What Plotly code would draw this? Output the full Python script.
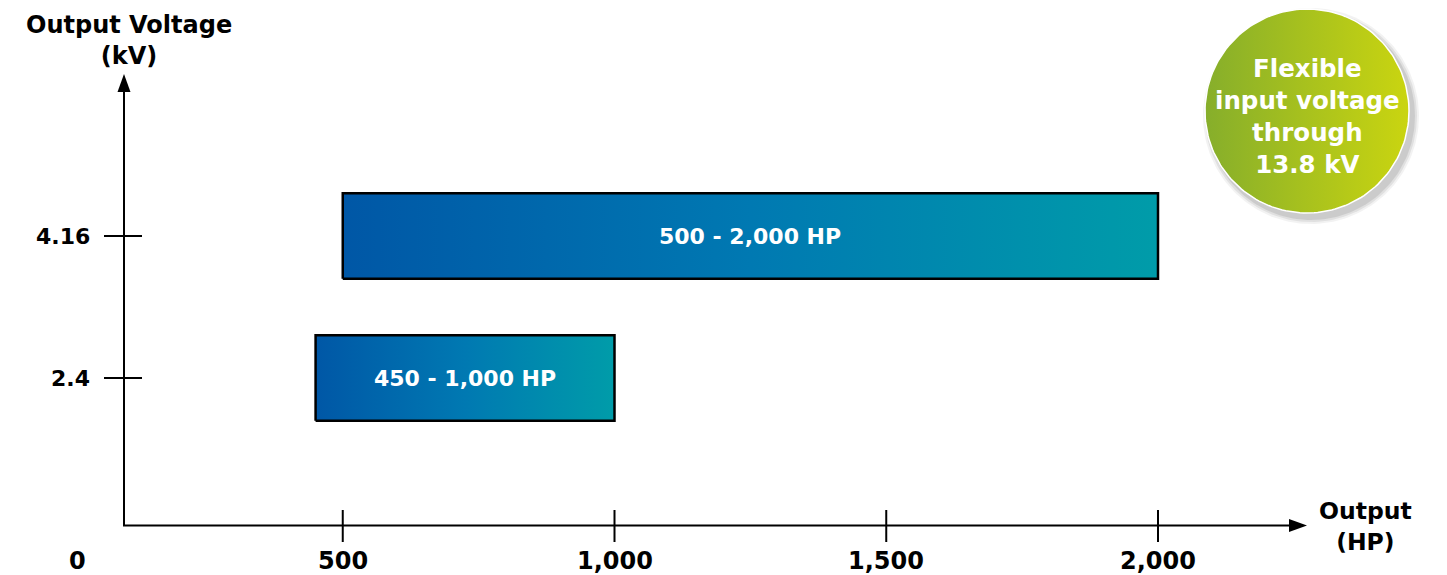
import numpy as np
import plotly.graph_objects as go

W, H = 1447, 575

# ---- data ----
voltages = [2.4, 4.16]
hp_start = [450, 500]
hp_end = [1000, 2000]
bar_labels = ["450 - 1,000 HP", "500 - 2,000 HP"]
x_ticks = [0, 500, 1000, 1500, 2000]
x_tick_labels = ["0", "500", "1,000", "1,500", "2,000"]
y_ticks = [2.4, 4.16]
y_tick_labels = ["2.4", "4.16"]
y_title = "Output Voltage<br>(kV)"
x_title = "Output<br>(HP)"
badge_text = "Flexible<br>input voltage<br>through<br>13.8 kV"

FONT = "DejaVu Sans"
BAR_HALF = 0.53

fig = go.Figure()

# bars (gradient filled rectangles on data axes)
for v, s, e in zip(voltages, hp_start, hp_end):
    fig.add_trace(go.Scatter(
        x=[s, e, e, s, s], y=[v - BAR_HALF, v - BAR_HALF, v + BAR_HALF, v + BAR_HALF, v - BAR_HALF],
        mode="lines", fill="toself",
        fillgradient=dict(type="horizontal",
                          colorscale=[[0, "#0057a6"], [0.5, "#0079b2"], [1, "#009ca9"]]),
        line=dict(color="black", width=2.5), hoverinfo="skip", showlegend=False,
        xaxis="x", yaxis="y"))

# badge (pixel overlay axes)
cx, cy, r = 1307, 111, 102
t = np.linspace(0, 2 * np.pi, 181)
for dr, op in [(6, 0.05), (4, 0.07), (2, 0.09)]:
    fig.add_trace(go.Scatter(
        x=cx + 4 + (r + dr) * np.cos(t), y=cy + 5 + (r + dr) * np.sin(t),
        mode="lines", fill="toself", fillcolor=f"rgba(0,0,0,{op})",
        line=dict(width=0), hoverinfo="skip", showlegend=False,
        xaxis="x2", yaxis="y2"))
fig.add_trace(go.Scatter(
    x=cx + r * np.cos(t), y=cy + r * np.sin(t),
    mode="lines", fill="toself",
    fillgradient=dict(type="horizontal", colorscale=[[0, "#86ae2b"], [1, "#cad510"]]),
    line=dict(color="white", width=1.5), hoverinfo="skip", showlegend=False,
    xaxis="x2", yaxis="y2"))

shapes = []
annotations = []

# axis lines and arrowheads (pixel coords)
ax_x, ax_y = 124, 525.5
shapes.append(dict(type="line", xref="x2", yref="y2", x0=ax_x, y0=ax_y, x1=ax_x, y1=90,
                   line=dict(color="black", width=2)))
shapes.append(dict(type="path", xref="x2", yref="y2",
                   path=f"M {ax_x-6.5},92 L {ax_x},74 L {ax_x+6.5},92 Z",
                   fillcolor="black", line=dict(width=0)))
shapes.append(dict(type="line", xref="x2", yref="y2", x0=ax_x - 1, y0=ax_y, x1=1292, y1=ax_y,
                   line=dict(color="black", width=2)))
shapes.append(dict(type="path", xref="x2", yref="y2",
                   path=f"M 1289,{ax_y-6.5} L 1307,{ax_y} L 1289,{ax_y+6.5} Z",
                   fillcolor="black", line=dict(width=0)))

# x ticks
for v, lab in zip(x_ticks, x_tick_labels):
    if v > 0:
        shapes.append(dict(type="line", xref="x", yref="y2", x0=v, x1=v, y0=510, y1=542,
                           line=dict(color="black", width=2)))
    annotations.append(dict(x=v, y=561, xref="x", yref="y2", text=lab, showarrow=False,
                            xshift=6 if v == 0 else 0,
                            font=dict(family=FONT, size=24, color="black", weight="bold")))
# y ticks
for v, lab in zip(y_ticks, y_tick_labels):
    shapes.append(dict(type="line", xref="x2", yref="y", x0=104, x1=142, y0=v, y1=v,
                       line=dict(color="black", width=2)))
    annotations.append(dict(x=92, y=v, xref="x2", yref="y", text=lab, showarrow=False,
                            xanchor="right",
                            font=dict(family=FONT, size=22, color="black", weight="bold")))

# bar labels
for v, s, e, lab in zip(voltages, hp_start, hp_end, bar_labels):
    annotations.append(dict(x=(s + e) / 2, y=v, xref="x", yref="y", text=lab, showarrow=False,
                            font=dict(family=FONT, size=22, color="white", weight="bold")))

# axis titles
annotations.append(dict(x=129, y=40, xref="x2", yref="y2", text=y_title, showarrow=False,
                        font=dict(family=FONT, size=24, color="black", weight="bold")))
annotations.append(dict(x=1365, y=526, xref="x2", yref="y2", text=x_title, showarrow=False,
                        font=dict(family=FONT, size=23.5, color="black", weight="bold")))
# badge text
annotations.append(dict(x=1307, y=116, xref="x2", yref="y2", text=badge_text, showarrow=False,
                        font=dict(family=FONT, size=24.5, color="white", weight="bold")))

px_per_hp = 0.5435
x0_px = 71
px_per_kv = 80.68
fig.update_layout(
    width=W, height=H, margin=dict(l=0, r=0, t=0, b=0),
    paper_bgcolor="white", plot_bgcolor="white", showlegend=False,
    xaxis=dict(range=[-x0_px / px_per_hp, (W - x0_px) / px_per_hp], visible=False, fixedrange=True),
    yaxis=dict(range=[2.4 - (H - 378) / px_per_kv, 4.16 + 236 / px_per_kv], visible=False, fixedrange=True),
    xaxis2=dict(range=[0, W], overlaying="x", visible=False, fixedrange=True),
    yaxis2=dict(range=[H, 0], overlaying="y", visible=False, fixedrange=True),
    shapes=shapes, annotations=annotations,
)

fig.write_html("out.html", config={"displayModeBar": False},
               post_script="document.body.style.margin='0';document.body.style.overflow='hidden';")
